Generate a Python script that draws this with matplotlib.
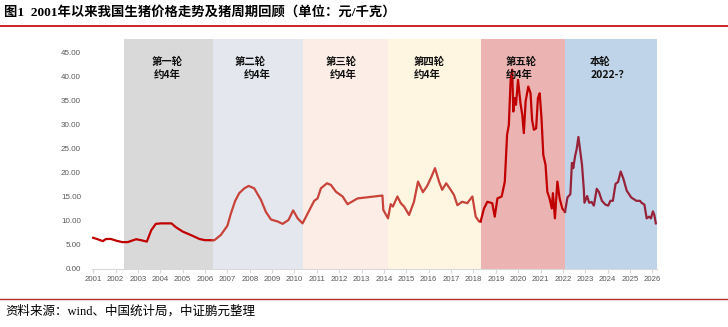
import matplotlib
matplotlib.use('Agg')
import matplotlib.pyplot as plt
import numpy as np

plt.rcParams['font.family'] = ['Noto Sans CJK SC', 'DejaVu Sans']

# 价格数据（元/千克），按时间段分成几段，颜色不同
t1 = [2001.0, 2001.2, 2001.43, 2001.58, 2001.8, 2002.03, 2002.3, 2002.55, 2002.92, 2003.14, 2003.4,
      2003.6, 2003.8, 2004.04, 2004.5, 2004.7, 2005.0, 2005.45, 2005.75, 2006.0, 2006.34]
v1 = [6.5, 6.2, 5.8, 6.25, 6.25, 5.9, 5.6, 5.6, 6.2, 6.0, 5.7,
      8.1, 9.4, 9.5, 9.5, 8.7, 7.8, 6.9, 6.25, 6.0, 6.0]

t2 = [2006.34, 2006.42, 2006.71, 2007.0, 2007.16, 2007.35, 2007.53, 2007.76, 2007.95, 2008.2, 2008.5,
      2008.72, 2008.95, 2009.24, 2009.47, 2009.73, 2009.94, 2010.14, 2010.36, 2010.66, 2010.88, 2011.03,
      2011.18, 2011.45, 2011.63, 2011.85, 2012.15, 2012.37, 2012.82, 2013.93, 2013.97, 2014.18, 2014.3,
      2014.4, 2014.6, 2014.75, 2014.9, 2015.12, 2015.34, 2015.52, 2015.74, 2015.93, 2016.12, 2016.28,
      2016.46, 2016.6, 2016.78, 2016.98, 2017.13, 2017.28, 2017.5, 2017.72, 2017.95, 2018.1, 2018.25,
      2018.32]
v2 = [6.0, 6.0, 7.1, 9.0, 11.6, 14.2, 15.8, 16.8, 17.3, 16.8, 14.4,
      11.9, 10.3, 9.9, 9.4, 10.2, 12.2, 10.55, 9.5, 12.2, 14.2, 14.7,
      16.8, 17.85, 17.5, 16.1, 15.1, 13.5, 14.7, 15.3, 12.3, 10.55, 13.5,
      13.0, 15.1, 13.7, 13.0, 11.25, 14.0, 18.2, 16.0, 17.3, 19.2, 21.0,
      18.2, 16.5, 17.85, 16.5, 15.4, 13.3, 14.0, 13.7, 15.1, 10.9, 9.9,
      9.9]

t3 = [2018.32, 2018.47, 2018.62, 2018.84, 2018.95, 2019.07, 2019.26, 2019.4, 2019.5, 2019.58, 2019.66,
      2019.73, 2019.78, 2019.85, 2019.9, 2019.99, 2020.1, 2020.18, 2020.25, 2020.33, 2020.45, 2020.55,
      2020.62, 2020.7, 2020.8, 2020.88, 2020.96, 2021.04, 2021.12, 2021.22, 2021.3, 2021.4, 2021.5,
      2021.55, 2021.64, 2021.75, 2021.85, 2021.97, 2022.09]
v3 = [9.9, 12.6, 14.0, 13.7, 10.9, 14.7, 15.1, 18.2, 27.9, 30.0, 39.4,
      41.5, 32.8, 35.6, 34.2, 39.4, 34.5, 32.1, 28.3, 34.9, 38.0, 36.6,
      31.0, 29.0, 29.3, 35.6, 36.6, 31.4, 23.75, 21.7, 16.1, 14.7, 12.6,
      15.8, 10.55, 18.2, 14.7, 12.6, 11.9]

t4 = [2022.09, 2022.2, 2022.33, 2022.4, 2022.46, 2022.54, 2022.61, 2022.69, 2022.77, 2022.85, 2022.93,
      2022.96, 2023.08, 2023.17, 2023.28, 2023.38, 2023.51, 2023.61, 2023.74, 2023.9, 2024.02, 2024.12,
      2024.23, 2024.35, 2024.46, 2024.58, 2024.7, 2024.85, 2025.05, 2025.28, 2025.44, 2025.51, 2025.64,
      2025.74, 2025.85, 2025.93, 2026.02, 2026.08, 2026.15]
v4 = [11.9, 14.9, 15.6, 22.1, 21.0, 23.5, 24.9, 27.5, 24.6, 21.7, 16.7,
      13.8, 15.2, 13.8, 13.95, 13.2, 16.7, 16.0, 14.2, 13.4, 13.2, 14.2,
      14.2, 17.75, 18.1, 20.3, 18.8, 16.3, 14.9, 14.2, 14.2, 13.8, 13.4,
      10.55, 10.9, 10.55, 12.0, 11.3, 9.5]

# 猪周期区间
cycle_start = [2002.38, 2006.34, 2010.36, 2014.17, 2018.32, 2022.09]
cycle_end = [2006.34, 2010.36, 2014.17, 2018.32, 2022.09, 2026.2]
cycle_colors = ['#D9D9D9', '#E4E7EE', '#FCEDE6', '#FFF6E1', '#EBB3B2', '#BFD4E8']
cycle_line1 = ['第一轮', '第二轮', '第三轮', '第四轮', '第五轮', '本轮']
cycle_line2 = ['约4年', '约4年', '约4年', '约4年', '约4年', '2022-？']
label_x1 = [2003.62, 2007.31, 2011.37, 2015.34, 2019.44, 2023.2]
label_x2 = [2003.72, 2007.71, 2011.58, 2015.34, 2019.44, 2023.23]

years = list(range(2001, 2027))
yticks = [0, 5, 10, 15, 20, 25, 30, 35, 40, 45]

fig = plt.figure(figsize=(7.28, 3.27), dpi=100)
ax = fig.add_axes([0.1264, 0.1774, 0.776, 0.7033])

for s, e, c in zip(cycle_start, cycle_end, cycle_colors):
    ax.axvspan(s, e, color=c, lw=0, zorder=0)

ax.plot(t1, v1, color='#C00000', lw=1.6, zorder=3)
ax.plot(t2, v2, color='#C8433A', lw=1.6, zorder=3)
ax.plot(t3, v3, color='#C00000', lw=1.6, zorder=3)
ax.plot(t4, v4, color='#97233A', lw=1.6, zorder=3)

for x1, x2, l1, l2 in zip(label_x1, label_x2, cycle_line1, cycle_line2):
    ax.text(x1, 43.1, l1, ha='left', va='center', fontsize=7.5, fontweight='bold', color='#111111', zorder=4)
    ax.text(x2, 40.5, l2, ha='left', va='center', fontsize=7.5, fontweight='bold', color='#111111', zorder=4)

ax.set_xlim(2000.95, 2026.2)
ax.set_ylim(0, 47.9)
ax.set_xticks(years)
ax.set_xticklabels([str(y) for y in years], fontsize=5.6, color='#595959', family='Liberation Sans')
ax.set_yticks(yticks)
ax.set_yticklabels(['%.2f' % y for y in yticks], fontsize=5.8, color='#595959', family='Liberation Sans')
ax.tick_params(axis='y', length=0, pad=8)
ax.tick_params(axis='x', length=3, color='#D9D9D9', pad=2)
for side in ['top', 'right', 'left']:
    ax.spines[side].set_visible(False)
ax.spines['bottom'].set_color('#D9D9D9')
ax.spines['bottom'].set_zorder(5)

# 标题与来源
fig.text(0.006, 0.962, '图1  2001年以来我国生猪价格走势及猪周期回顾（单位：元/千克）',
         ha='left', va='center', fontsize=9.6, fontweight='bold',
         family=['Liberation Serif', 'Noto Sans CJK SC'])
fig.add_artist(plt.Line2D([0, 1], [0.922, 0.922], color='#C00000', lw=1.2, transform=fig.transFigure))
fig.add_artist(plt.Line2D([0, 1], [0.086, 0.086], color='#B0302A', lw=1.0, transform=fig.transFigure))
fig.text(0.007, 0.046, '资料来源：wind、中国统计局，中证鹏元整理', ha='left', va='center',
         fontsize=9.0, family=['Liberation Serif', 'Noto Sans CJK SC'])

fig.savefig('out.png', dpi=100)
